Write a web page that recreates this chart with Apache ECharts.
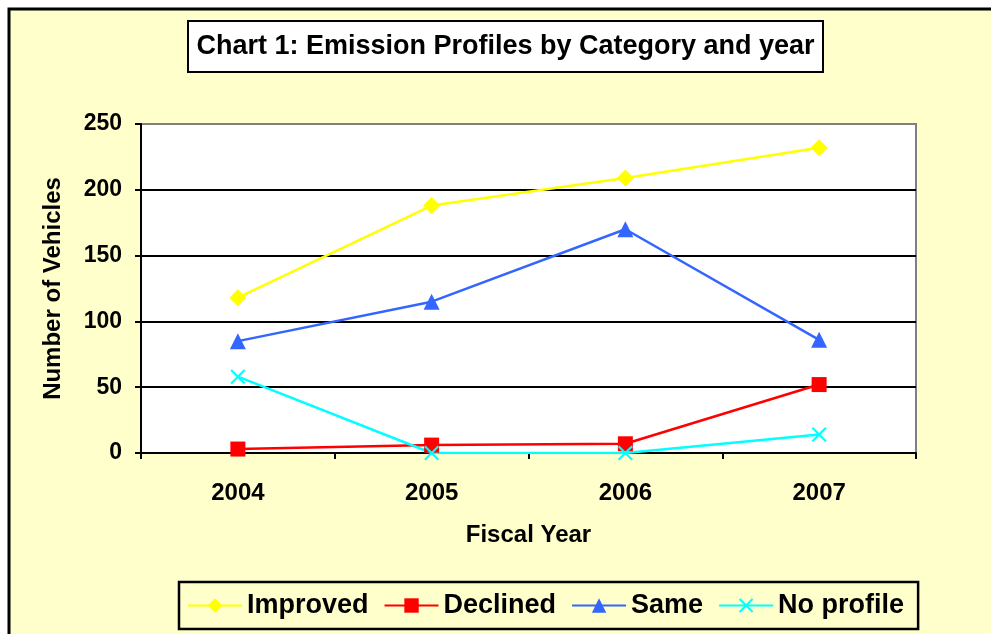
<!DOCTYPE html>
<html><head><meta charset="utf-8">
<script src="https://cdn.jsdelivr.net/npm/echarts@6/dist/echarts.min.js"></script>
<style>html,body{margin:0;padding:0;background:#fff}#c{width:991px;height:634px}</style>
</head><body><div id="c"></div>
<script>
const years = ['2004', '2005', '2006', '2007'];
const improved = [118, 188, 209, 232];
const declined = [3, 6, 7, 52];
const same = [85, 115, 170, 86];
const noProfile = [58, 0, 0, 14];
const yMin = 0, yMax = 250, yStep = 50;

const FONT = '"Liberation Sans", Arial, sans-serif';
const chart = echarts.init(document.getElementById('c'));
const cross = 'path://M0,1L1,0L5,4L9,0L10,1L6,5L10,9L9,10L5,6L1,10L0,9L4,5Z';

function line(name, data, color, symbol, size) {
  return {
    name, type: 'line', data, symbol, symbolSize: size,
    lineStyle: { color, width: 2.5 },
    itemStyle: { color },
    emphasis: { disabled: true },
    animation: false, z: 3
  };
}

chart.setOption({
  backgroundColor: '#ffffff',
  animation: false,
  textStyle: { fontFamily: FONT },
  graphic: [
    { type: 'rect', z: -100, silent: true,
      shape: { x: 9, y: 9, width: 1000, height: 700 },
      style: { fill: '#FFFFCC', stroke: '#000', lineWidth: 3 } },
    { type: 'rect', z: 10, silent: true,
      shape: { x: 188, y: 21, width: 635, height: 51 },
      style: { fill: '#fff', stroke: '#000', lineWidth: 2 } },
    { type: 'text', z: 11, silent: true, x: 505.5, y: 47,
      style: { text: 'Chart 1: Emission Profiles by Category and year',
        font: 'bold 27px ' + FONT, fill: '#000', textAlign: 'center', textVerticalAlign: 'middle' } }
  ],
  grid: { left: 141, right: 75, top: 124, bottom: 181, show: true,
    backgroundColor: '#fff', borderColor: '#808080', borderWidth: 2 },
  xAxis: {
    type: 'category', data: years, boundaryGap: true,
    name: 'Fiscal Year', nameLocation: 'middle', nameGap: 70,
    nameTextStyle: { fontSize: 24, fontWeight: 'bold', color: '#000', fontFamily: FONT },
    axisLine: { lineStyle: { color: '#000', width: 2 } },
    axisTick: { show: true, length: 6, lineStyle: { color: '#000', width: 2 } },
    axisLabel: { fontSize: 24, fontWeight: 'bold', color: '#000', margin: 28, fontFamily: FONT },
    splitLine: { show: false }
  },
  yAxis: {
    type: 'value', min: yMin, max: yMax, interval: yStep,
    name: 'Number of Vehicles', nameLocation: 'middle', nameGap: 76,
    nameTextStyle: { fontSize: 24, fontWeight: 'bold', color: '#000', fontFamily: FONT },
    axisLine: { show: true, lineStyle: { color: '#000', width: 2 } },
    axisTick: { show: true, length: 6, lineStyle: { color: '#000', width: 2 } },
    axisLabel: { fontSize: 23, fontWeight: 'bold', color: '#000', margin: 19, fontFamily: FONT },
    splitLine: { show: true, lineStyle: { color: ['#000', '#000', '#000', '#000', '#000', '#808080'], width: 2 } }
  },
  legend: {
    left: 179, top: 582, orient: 'horizontal',
    padding: [10, 14, 10, 8],
    borderColor: '#000', borderWidth: 2.5,
    itemWidth: 54, itemHeight: 18, itemGap: 15,
    textStyle: { fontSize: 27, fontWeight: 'bold', color: '#000', fontFamily: FONT },
    data: ['Improved', 'Declined', 'Same', 'No profile']
  },
  series: [
    line('Improved', improved, '#FFFF00', 'diamond', 17),
    line('Declined', declined, '#FF0000', 'rect', 15),
    line('Same', same, '#3366FF', 'triangle', 16),
    line('No profile', noProfile, '#00FFFF', cross, 15)
  ]
});
</script></body></html>
